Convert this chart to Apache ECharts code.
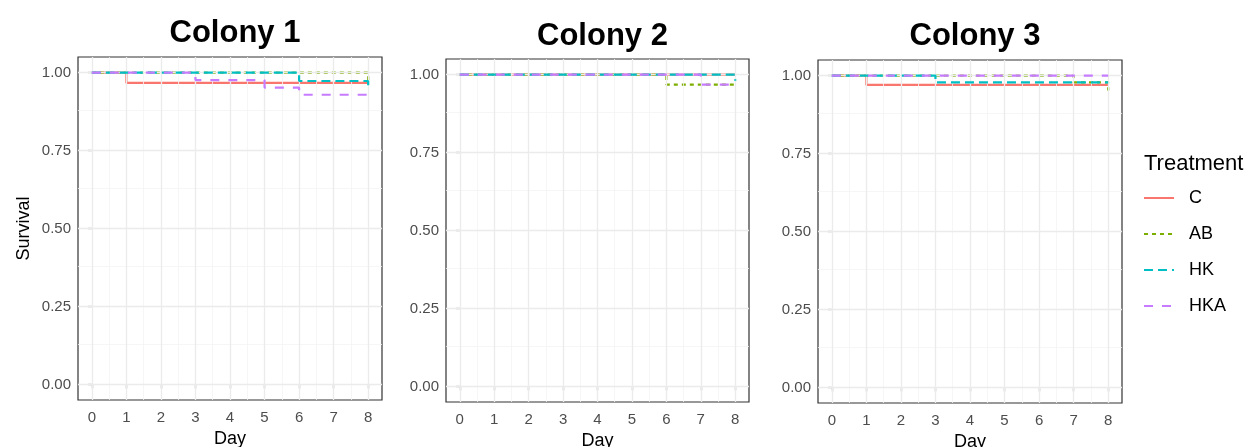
<!DOCTYPE html>
<html>
<head>
<meta charset="utf-8">
<script src="https://cdn.jsdelivr.net/npm/echarts@6/dist/echarts.min.js"></script>
<style>
  html, body { margin: 0; padding: 0; background: #fff; }
  #chart { width: 1245px; height: 447px; }
</style>
</head>
<body>
<div id="chart"></div>
<script>
// treatments, colours and line types
const treatments = ['C', 'AB', 'HK', 'HKA'];
const colors = ['#F8766D', '#7CAE00', '#00BFC4', '#C77CFF'];
const dashes = ['solid', [4, 4], [9, 5], [9, 9]];

// survival curves: [day, survival] at each event
const colony1C = [[0, 1], [1, 0.967], [8, 0.967]];
const colony1AB = [[0, 1], [8, 0.975]];
const colony1HK = [[0, 1], [6, 0.973], [8, 0.95]];
const colony1HKA = [[0, 1], [3, 0.976], [5, 0.952], [6, 0.929], [8, 0.929]];

const colony2C = [[0, 1], [8, 1]];
const colony2AB = [[0, 1], [6, 0.968], [8, 0.968]];
const colony2HK = [[0, 1], [8, 0.98]];
const colony2HKA = [[0, 1], [7, 0.968], [8, 0.968]];

const colony3C = [[0, 1], [1, 0.97], [8, 0.97]];
const colony3AB = [[0, 1], [7, 0.978], [8, 0.952]];
const colony3HK = [[0, 1], [3, 0.978], [8, 0.978]];
const colony3HKA = [[0, 1], [8, 1]];

const colonies = ['Colony 1', 'Colony 2', 'Colony 3'];
const colonyData = [
  [colony1C, colony1AB, colony1HK, colony1HKA],
  [colony2C, colony2AB, colony2HK, colony2HKA],
  [colony3C, colony3AB, colony3HK, colony3HKA]
];

// tick labels
const dayTicks = [0, 1, 2, 3, 4, 5, 6, 7, 8];
const dayMinor = [0.5, 1.5, 2.5, 3.5, 4.5, 5.5, 6.5, 7.5];
const survTicks = [0, 0.25, 0.5, 0.75, 1];
const survMinor = [0.125, 0.375, 0.625, 0.875];

// panel boxes in pixels
const panels = [
  { left: 78, top: 57, width: 304, height: 343 },
  { left: 446, top: 59, width: 303, height: 343 },
  { left: 818, top: 60, width: 304, height: 343 }
];

const FONT = 'Liberation Sans';
const myChart = echarts.init(document.getElementById('chart'));

let grids = [], xAxes = [], yAxes = [], series = [], titles = [];

panels.forEach((p, i) => {
  grids.push({
    left: p.left, top: p.top, width: p.width, height: p.height,
    containLabel: false, outerBoundsMode: 'none',
    show: true, backgroundColor: '#fff', borderColor: '#333', borderWidth: 1.2
  });

  titles.push({
    text: colonies[i],
    left: p.left + p.width / 2,
    top: i === 0 ? 13 : 16,
    textAlign: 'center',
    textStyle: { fontFamily: FONT, fontSize: 31, fontWeight: 'bold', color: '#000' }
  });

  xAxes.push({
    type: 'value', gridIndex: i, min: -0.4, max: 8.4,
    name: 'Day', nameLocation: 'middle', nameGap: i === 0 ? 29 : 27,
    nameTextStyle: { fontFamily: FONT, fontSize: 18, color: '#000' },
    axisLine: { show: false },
    axisTick: { show: true, length: 4, customValues: dayTicks, lineStyle: { color: '#333', width: 1.2 } },
    axisLabel: { customValues: dayTicks, margin: 10, fontFamily: FONT, fontSize: 15, color: '#4d4d4d' },
    splitLine: { show: false }
  });

  yAxes.push({
    type: 'value', gridIndex: i, min: -0.05, max: 1.05,
    name: i === 0 ? 'Survival' : '', nameLocation: 'middle', nameGap: 45,
    nameTextStyle: { fontFamily: FONT, fontSize: 18, color: '#000' },
    axisLine: { show: false },
    axisTick: { show: true, length: 4, customValues: survTicks, lineStyle: { color: '#333', width: 1.2 } },
    axisLabel: {
      customValues: survTicks, margin: 7, fontFamily: FONT, fontSize: 15, color: '#4d4d4d',
      formatter: v => v.toFixed(2)
    },
    splitLine: { show: false }
  });

  // grid lines of the panel
  const gl = (key, vals, color, width) =>
    vals.map(v => ({ [key]: v, lineStyle: { color: color, width: width, type: 'solid' } }));
  series.push({
    type: 'line', xAxisIndex: i, yAxisIndex: i, data: [], z: 1, silent: true,
    markLine: {
      silent: true, symbol: 'none', label: { show: false }, animation: false,
      data: [
        ...gl('xAxis', dayMinor, '#f4f4f4', 0.8),
        ...gl('yAxis', survMinor, '#f4f4f4', 0.8),
        ...gl('xAxis', dayTicks, '#ebebeb', 1.3),
        ...gl('yAxis', survTicks, '#ebebeb', 1.3)
      ]
    }
  });

  colonyData[i].forEach((d, k) => {
    series.push({
      name: treatments[k], type: 'line', xAxisIndex: i, yAxisIndex: i,
      data: d, step: 'end', symbol: 'none', z: 3 + k,
      lineStyle: { color: colors[k], width: 2.2, type: dashes[k] },
      itemStyle: { color: colors[k] }
    });
  });
});

titles.push({
  text: 'Treatment', left: 1139, top: 148,
  textStyle: { fontFamily: FONT, fontSize: 22, fontWeight: 'normal', color: '#000' }
});

myChart.setOption({
  animation: false,
  title: titles,
  legend: {
    data: treatments,
    orient: 'vertical',
    left: 1138, top: 184,
    itemWidth: 30, itemHeight: 14, itemGap: 18,
    itemStyle: { opacity: 0 },
    textStyle: { fontFamily: FONT, fontSize: 18, color: '#000', padding: [0, 0, 0, 10] }
  },
  grid: grids,
  xAxis: xAxes,
  yAxis: yAxes,
  series: series
});

window.addEventListener('resize', () => {
  myChart.resize();
});
</script>
</body>
</html>
